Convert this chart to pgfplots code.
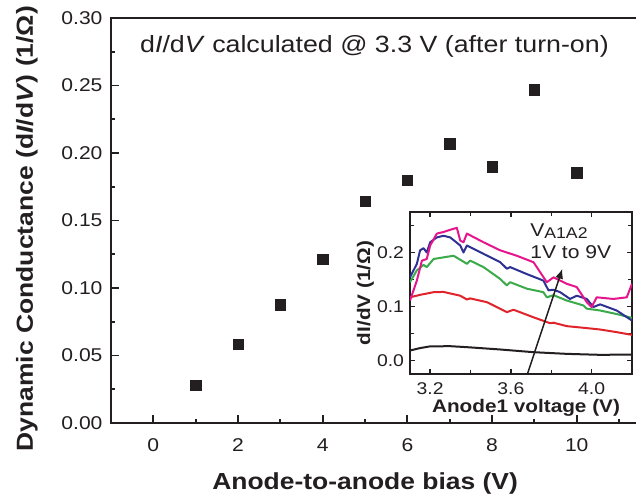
\documentclass[border=0pt]{standalone}
\usepackage{pgfplots}
\pgfplotsset{compat=1.18}
\usepackage{fontspec}
\setmainfont{Liberation Sans}[FakeStretch=1.14]
\usetikzlibrary{arrows.meta,calc}
\definecolor{ink}{HTML}{231F20}
\definecolor{cred}{HTML}{E0242B}
\definecolor{cgreen}{HTML}{3AAA4A}
\definecolor{cblue}{HTML}{2E3192}
\definecolor{cmag}{HTML}{E6158C}
\begin{document}
\begin{tikzpicture}
\begin{axis}[name=main, scale only axis, width=525pt, height=405pt,
  xmin=-1, xmax=11.4, ymin=0, ymax=0.30, clip=false,
  axis line style={draw=none},
  xtick={0,2,4,6,8,10}, minor xtick={1,3,5,7,9,11},
  ytick={0,0.05,0.10,0.15,0.20,0.25,0.30},
  minor ytick={0.025,0.075,0.125,0.175,0.225,0.275},
  xtick pos=lower, ytick pos=left, tick align=inside,
  major tick length=8pt, minor tick length=4.5pt,
  tick style={line width=1.8pt, ink},
  /pgf/number format/assume math mode=true,
  tick label style={font=\fontsize{18.5}{20}\selectfont, text=ink},
  yticklabel style={/pgf/number format/fixed, /pgf/number format/fixed zerofill, /pgf/number format/precision=2, xshift=-5pt},
  xticklabel style={yshift=-12pt},
  xlabel={\bfseries Anode-to-anode bias (V)},
  ylabel={\bfseries Dynamic Conductance (d\textit{I}/d\textit{V}) (1/Ω)},
  label style={font=\fontsize{23.2}{25}\selectfont, text=ink},
  x label style={at={(axis description cs:0.484,-0.1654)}, anchor=base},
  y label style={at={(axis description cs:-0.1486,0.48)}, anchor=base},
  after end axis/.code={
    \draw[ink, line width=2.4pt, line join=miter] (rel axis cs:1,1) -- (rel axis cs:0,1) -- (rel axis cs:0,0) -- (rel axis cs:1,0);
  },
]
\addplot[only marks, mark=square*, mark size=5.2pt, mark options={ink, fill=ink}] coordinates {
(1,0.028)(2,0.0585)(3,0.0875)(4,0.1215)(5,0.1645)(6,0.180)(7,0.207)(8,0.190)(9,0.247)(10,0.1855)};
\node[anchor=base west, font=\fontsize{23.5}{25}\selectfont, text=ink, inner sep=0pt] at (rel axis cs:0.0552,0.916) {d\textit{I}/d\textit{V} calculated @ 3.3 V (after turn-on)};
\end{axis}
\begin{axis}[at={($(main.south west)+(299pt,49pt)$)}, anchor=south west,
  scale only axis, width=222pt, height=162pt,
  xmin=3.1, xmax=4.2, ymin=-0.025, ymax=0.275,
  axis background/.style={fill=white},
  axis line style={ink, line width=1.8pt},
  tick align=inside,
  xtick={3.2,3.6,4.0}, minor xtick={3.4,3.8,4.2},
  ytick={0,0.1,0.2}, minor ytick={0.05,0.15,0.25},
  major tick length=5pt, minor tick length=4pt,
  tick style={line width=1.4pt, ink},
  /pgf/number format/assume math mode=true,
  tick label style={font=\fontsize{17}{18}\selectfont, text=ink, /pgf/number format/fixed, /pgf/number format/fixed zerofill, /pgf/number format/precision=1},
  yticklabel style={xshift=-2.5pt},
  xticklabel style={yshift=-5.5pt},
  xlabel={\bfseries Anode1 voltage (V)},
  ylabel={\bfseries dI/dV (1/Ω)},
  label style={font=\fontsize{18.2}{19}\selectfont, text=ink},
  x label style={at={(axis description cs:0.5225,-0.24)}, anchor=base},
  y label style={at={(axis description cs:-0.18,0.5)}, anchor=base},
  every axis plot/.append style={line width=2pt, line join=round},
]
\addplot[ink] coordinates {(3.10,0.0185)(3.15,0.023)(3.20,0.0262)(3.30,0.0265)(3.382,0.0247)(3.547,0.0204)(3.712,0.0154)(3.877,0.0123)(4.042,0.0105)(4.20,0.011)};
\addplot[cred] coordinates {(3.10,0.117)(3.15,0.1216)(3.217,0.1265)(3.266,0.127)(3.349,0.120)(3.382,0.113)(3.398,0.115)(3.481,0.108)(3.580,0.0895)(3.613,0.094)(3.712,0.080)(3.794,0.069)(3.811,0.070)(3.877,0.0636)(3.976,0.060)(4.042,0.0574)(4.124,0.0525)(4.20,0.0475)};
\addplot[cgreen] coordinates {(3.10,0.145)(3.134,0.167)(3.167,0.177)(3.183,0.173)(3.217,0.188)(3.266,0.191)(3.316,0.194)(3.365,0.183)(3.382,0.179)(3.398,0.185)(3.464,0.173)(3.547,0.151)(3.580,0.139)(3.596,0.145)(3.679,0.133)(3.761,0.1265)(3.778,0.117)(3.811,0.121)(3.877,0.111)(3.959,0.102)(3.976,0.096)(4.042,0.0926)(4.124,0.086)(4.20,0.079)};
\addplot[cblue] coordinates {(3.10,0.154)(3.134,0.179)(3.150,0.204)(3.167,0.208)(3.183,0.200)(3.200,0.219)(3.233,0.228)(3.266,0.231)(3.299,0.228)(3.349,0.213)(3.365,0.200)(3.382,0.213)(3.464,0.1975)(3.547,0.182)(3.580,0.170)(3.596,0.173)(3.679,0.160)(3.761,0.148)(3.786,0.130)(3.811,0.131)(3.844,0.1265)(3.893,0.114)(3.926,0.120)(3.976,0.114)(4.009,0.099)(4.042,0.104)(4.124,0.0926)(4.20,0.074)};
\addplot[cmag] coordinates {(3.10,0.111)(3.134,0.148)(3.159,0.185)(3.183,0.188)(3.200,0.213)(3.233,0.235)(3.266,0.238)(3.299,0.242)(3.332,0.2457)(3.349,0.222)(3.365,0.219)(3.382,0.235)(3.464,0.219)(3.547,0.204)(3.629,0.194)(3.712,0.182)(3.778,0.145)(3.811,0.154)(3.877,0.142)(3.926,0.136)(3.976,0.108)(4.000,0.099)(4.025,0.117)(4.108,0.114)(4.174,0.117)(4.20,0.142)};
\draw[ink, line width=1.5pt, -{Latex[length=10pt,width=8pt]}] (axis cs:3.683,-0.0235) -- (axis cs:3.855,0.170);
\node[anchor=base west, font=\fontsize{18.5}{20}\selectfont, text=ink, inner sep=0pt] at (axis cs:3.695,0.230) {V\raisebox{-2.6pt}{\fontsize{15.5}{17}\selectfont A1A2}};
\node[anchor=base west, font=\fontsize{18.5}{20}\selectfont, text=ink, inner sep=0pt] at (axis cs:3.695,0.189) {1V to 9V};
\end{axis}
\pgfresetboundingbox
\path[use as bounding box] ($(main.south west)+(-111pt,-78pt)$) rectangle ($(main.north east)+(0pt,18pt)$);
\end{tikzpicture}
\end{document}
